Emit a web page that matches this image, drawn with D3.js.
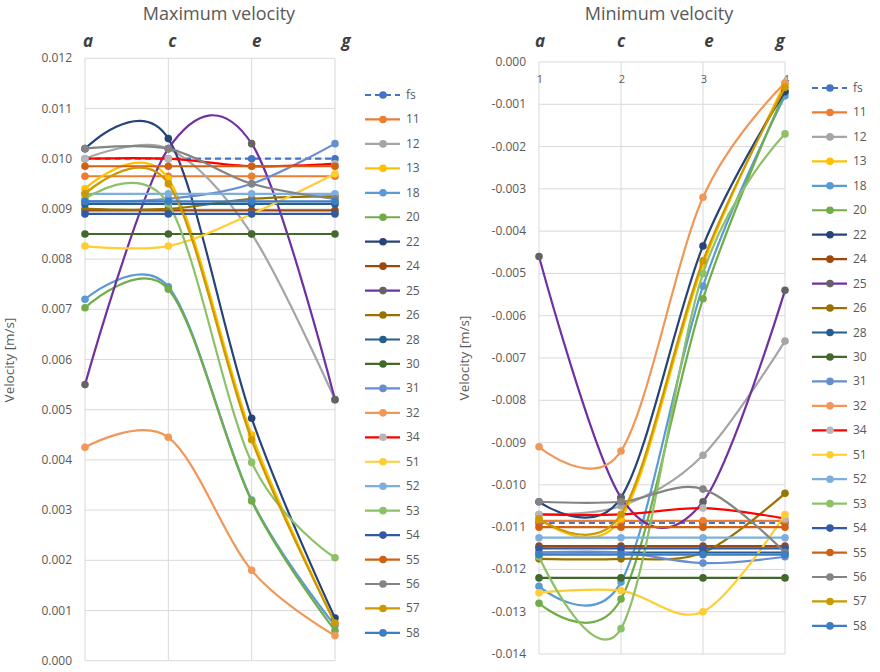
<!DOCTYPE html>
<html>
<head>
<meta charset="utf-8">
<script src="https://cdn.jsdelivr.net/npm/d3@7"></script>
<style>
  body { margin: 0; background: #fff; }
  text { font-family: "Open Sans", sans-serif; }
</style>
</head>
<body>
<div id="chart"></div>
<script>
// categories along the x axis, plus the numeric labels of the min chart
var categories = ["a", "c", "e", "g"];
var categoryNumbers = ["1", "2", "3", "4"];

var seriesNames = ["fs", "11", "12", "13", "18", "20", "22", "24", "25", "26", "28",
  "30", "31", "32", "34", "51", "52", "53", "54", "55", "56", "57", "58"];

// maximum velocity [m/s] at a, c, e, g
var maxVelocity = [
  [0.0100, 0.0100, 0.0100, 0.0100],     // fs
  [0.00965, 0.00965, 0.00965, 0.00965], // 11
  [0.0100, 0.0102, 0.0085, 0.0052],     // 12
  [0.0094, 0.0096, 0.0045, 0.00075],    // 13
  [0.0072, 0.00745, 0.0032, 0.0007],    // 18
  [0.00703, 0.0074, 0.00318, 0.0006],   // 20
  [0.0102, 0.0104, 0.00483, 0.00085],   // 22
  [0.00897, 0.00897, 0.00897, 0.00897], // 24
  [0.0055, 0.0102, 0.0103, 0.0052],     // 25
  [0.0090, 0.0090, 0.0092, 0.00925],    // 26
  [0.0091, 0.0091, 0.0091, 0.0091],     // 28
  [0.0085, 0.0085, 0.0085, 0.0085],     // 30
  [0.00915, 0.0092, 0.0095, 0.0103],    // 31
  [0.00425, 0.00445, 0.0018, 0.0005],   // 32
  [0.0100, 0.0100, 0.00985, 0.0099],    // 34
  [0.00826, 0.00826, 0.0089, 0.0097],   // 51
  [0.0093, 0.0093, 0.0093, 0.0093],     // 52
  [0.0092, 0.0091, 0.00395, 0.00205],   // 53
  [0.0089, 0.0089, 0.0089, 0.0089],     // 54
  [0.00985, 0.00985, 0.00985, 0.00985], // 55
  [0.0102, 0.0102, 0.0095, 0.0092],     // 56
  [0.0093, 0.0095, 0.0044, 0.00075],    // 57
  [0.00915, 0.00915, 0.00915, 0.00915]  // 58
];

// minimum velocity [m/s] at a, c, e, g
var minVelocity = [
  [-0.0109, -0.0109, -0.0109, -0.0109],     // fs
  [-0.01085, -0.01085, -0.01085, -0.01085], // 11
  [-0.0107, -0.0105, -0.0093, -0.0066],     // 12
  [-0.0108, -0.0108, -0.0048, -0.0005],     // 13
  [-0.0124, -0.0123, -0.0053, -0.0008],     // 18
  [-0.0128, -0.0127, -0.0056, -0.0007],     // 20
  [-0.0104, -0.0103, -0.00435, -0.0007],    // 22
  [-0.01145, -0.01145, -0.01145, -0.01145], // 24
  [-0.0046, -0.0103, -0.0104, -0.0054],     // 25
  [-0.01175, -0.01175, -0.0116, -0.0102],   // 26
  [-0.0116, -0.0116, -0.0116, -0.0116],     // 28
  [-0.0122, -0.0122, -0.0122, -0.0122],     // 30
  [-0.0116, -0.0116, -0.01185, -0.0117],    // 31
  [-0.0091, -0.0092, -0.0032, -0.0005],     // 32
  [-0.0107, -0.0107, -0.01055, -0.0108],    // 34
  [-0.01255, -0.0125, -0.0130, -0.0107],    // 51
  [-0.01125, -0.01125, -0.01125, -0.01125], // 52
  [-0.0117, -0.0134, -0.0050, -0.0017],     // 53
  [-0.0115, -0.0115, -0.0115, -0.0115],     // 54
  [-0.0110, -0.0110, -0.0110, -0.0110],     // 55
  [-0.0104, -0.0104, -0.0101, -0.0116],     // 56
  [-0.0108, -0.0107, -0.0047, -0.0006],     // 57
  [-0.01165, -0.01165, -0.01165, -0.01165]  // 58
];

var maxTicks = [0, 0.001, 0.002, 0.003, 0.004, 0.005, 0.006, 0.007, 0.008, 0.009, 0.010, 0.011, 0.012];
var minTicks = [0, -0.001, -0.002, -0.003, -0.004, -0.005, -0.006, -0.007, -0.008, -0.009, -0.010, -0.011, -0.012, -0.013, -0.014];

// excel-ish colours, one per series
var lineColors = ["#4472C4", "#ED7D31", "#A5A5A5", "#FFC000", "#5B9BD5", "#70AD47", "#264478",
  "#9E480E", "#7030A0", "#997300", "#255E91", "#43682B", "#698ED0", "#F1975A", "#FF0000",
  "#FFCD33", "#7CAFDD", "#8CC168", "#335AA1", "#D26012", "#848484", "#CC9A00", "#3C7DC4"];
var markerColors = lineColors.slice();
markerColors[8] = "#636363";  // 25
markerColors[14] = "#B7B7B7"; // 34

var locale = d3.formatLocale({decimal: ".", thousands: ",", grouping: [3], currency: ["", ""], minus: "-"});
var fmt = locale.format(".3f");

var svg = d3.select("#chart").append("svg")
    .attr("width", 880)
    .attr("height", 672);

function drawPanel(p) {
  var x = d3.scalePoint().domain(categories).range([p.left, p.right]);
  var y = d3.scaleLinear().domain(p.domain).range([p.bottom, p.top]);
  var g = svg.append("g");

  // grid
  g.selectAll(".hgrid").data(p.ticks).enter().append("line")
      .attr("x1", p.left).attr("x2", p.right)
      .attr("y1", function(d) { return y(d); })
      .attr("y2", function(d) { return y(d); })
      .attr("stroke", "#d9d9d9").attr("stroke-width", 1);
  g.selectAll(".vgrid").data(categories).enter().append("line")
      .attr("x1", function(d) { return x(d); })
      .attr("x2", function(d) { return x(d); })
      .attr("y1", p.top).attr("y2", p.bottom)
      .attr("stroke", "#d9d9d9").attr("stroke-width", 1);

  // y tick labels
  g.selectAll(".ytick").data(p.ticks).enter().append("text")
      .attr("x", p.left - 13)
      .attr("y", function(d) { return y(d) + 4; })
      .attr("text-anchor", "end")
      .attr("font-size", 12)
      .attr("fill", "#595959")
      .text(function(d) { return fmt(d); });

  // y axis title
  g.append("text")
      .attr("transform", "translate(" + p.yTitleX + "," + p.yTitleY + ") rotate(-90)")
      .attr("text-anchor", "middle")
      .attr("font-size", 13.5)
      .attr("fill", "#595959")
      .text("Velocity [m/s]");

  // chart title
  g.append("text")
      .attr("x", p.titleX).attr("y", 20)
      .attr("text-anchor", "middle")
      .attr("font-size", 18)
      .attr("fill", "#595959")
      .text(p.title);

  // a c e g header
  g.selectAll(".head").data(categories).enter().append("text")
      .attr("x", function(d, i) { return x(d) + p.headShift[i]; })
      .attr("y", 47)
      .attr("text-anchor", "middle")
      .attr("font-size", 17)
      .attr("font-weight", "bold")
      .attr("font-style", "italic")
      .attr("fill", "#404040")
      .text(function(d) { return d; });

  // numbers on the category axis (min chart only)
  if (p.numbers) {
    g.selectAll(".num").data(p.numbers).enter().append("text")
        .attr("x", function(d, i) { return x(categories[i]) + 1; })
        .attr("y", p.top + 21)
        .attr("text-anchor", "middle")
        .attr("font-size", 11)
        .attr("fill", "#595959")
        .text(function(d) { return d; });
  }

  var line = d3.line()
      .x(function(d, i) { return x(categories[i]); })
      .y(function(d) { return y(d); })
      .curve(d3.curveCardinal.tension(0));

  p.values.forEach(function(vals, s) {
    var sg = g.append("g");
    sg.append("path")
        .datum(vals)
        .attr("d", line)
        .attr("fill", "none")
        .attr("stroke", lineColors[s])
        .attr("stroke-width", 2.2)
        .attr("stroke-dasharray", s == 0 ? "6,4" : null);
    sg.selectAll("circle").data(vals).enter().append("circle")
        .attr("cx", function(d, i) { return x(categories[i]); })
        .attr("cy", function(d) { return y(d); })
        .attr("r", 3.8)
        .attr("fill", markerColors[s]);
  });

  // legend
  var lg = g.append("g");
  seriesNames.forEach(function(name, s) {
    var ly = p.legendY + s * 24.45;
    lg.append("line")
        .attr("x1", p.legendX).attr("x2", p.legendX + 35)
        .attr("y1", ly).attr("y2", ly)
        .attr("stroke", lineColors[s])
        .attr("stroke-width", 2.2)
        .attr("stroke-dasharray", s == 0 ? "6,4" : null);
    lg.append("circle")
        .attr("cx", p.legendX + 18).attr("cy", ly)
        .attr("r", 3.8)
        .attr("fill", markerColors[s]);
    lg.append("text")
        .attr("x", p.legendX + 41).attr("y", ly + 4)
        .attr("font-size", 12)
        .attr("fill", "#595959")
        .text(name);
  });
}

drawPanel({
  title: "Maximum velocity", titleX: 219,
  left: 85, right: 335, top: 58.3, bottom: 660.7,
  domain: [0, 0.012], ticks: maxTicks, values: maxVelocity,
  headShift: [3, 4, 5, 11],
  yTitleX: 14, yTitleY: 360,
  legendX: 365, legendY: 95
});

drawPanel({
  title: "Minimum velocity", titleX: 659,
  left: 539, right: 785, top: 62, bottom: 654,
  domain: [-0.014, 0], ticks: minTicks, values: minVelocity,
  headShift: [1, 0, 6, -5],
  numbers: categoryNumbers,
  yTitleX: 469, yTitleY: 358,
  legendX: 812, legendY: 88
});
</script>
</body>
</html>
